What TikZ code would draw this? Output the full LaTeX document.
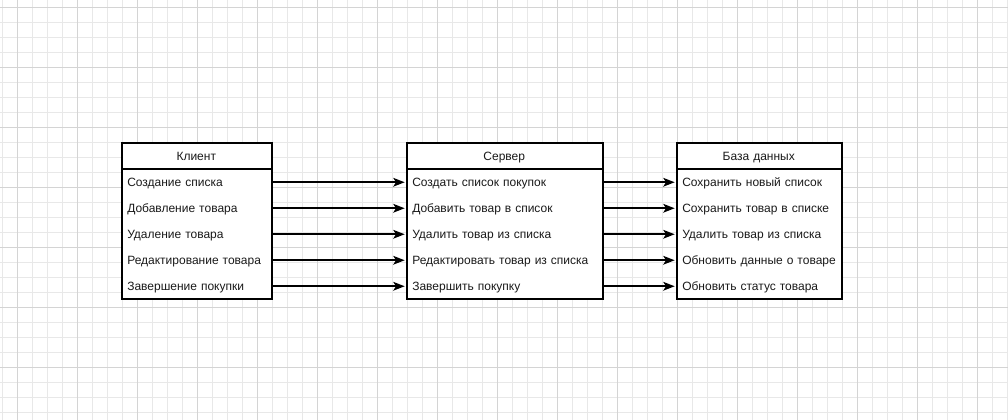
\documentclass[tikz,border=0pt]{standalone}
\usepackage{fontspec}
\setmainfont{Liberation Sans}
\usetikzlibrary{arrows.meta}
\definecolor{gridminor}{HTML}{E8E8E8}
\definecolor{gridmajor}{HTML}{D4D4D4}
\definecolor{txt}{HTML}{1A1A1A}
\tikzset{
  boxframe/.style={draw=black, line width=1.5pt, minimum height=#1, inner sep=0pt, anchor=north west},
  headtext/.style={font=\fontsize{9}{10}\selectfont, text=txt, inner sep=0pt, minimum height=19.5pt, anchor=north west, text width=#1, align=center, text height=7pt, text depth=0.4pt},
  rowtext/.style={font=\fontsize{9}{10}\selectfont, text=txt, inner xsep=4.5pt, inner ysep=0pt, minimum height=19.5pt, anchor=north west, text width=#1, align=left, text height=7pt, text depth=0.4pt},
  arr/.style={line width=1.5pt, -{Stealth[length=8.5pt,width=6.5pt,inset=2pt]}, shorten >=1pt},
}
\begin{document}
\begin{tikzpicture}[x=0.75pt,y=-0.75pt]
\useasboundingbox (0,0) rectangle (1008,420);
\fill[white] (0,0) rectangle (1008,420);
% grid
\foreach \gx in {2,17,...,1007} \draw[gridminor, line width=0.75pt] (\gx,0) -- (\gx,420);
\foreach \gy in {8,23,...,419} \draw[gridminor, line width=0.75pt] (0,\gy) -- (1008,\gy);
\foreach \gx in {17,77,...,1007} \draw[gridmajor, line width=0.75pt] (\gx,0) -- (\gx,420);
\foreach \gy in {8,68,...,419} \draw[gridmajor, line width=0.75pt] (0,\gy) -- (1008,\gy);

% white fills
\fill[white] (121,142) rectangle (271,298);
\fill[white] (406,142) rectangle (602,298);
\fill[white] (676,142) rectangle (841,298);

% Client
\node[boxframe=19.5pt, minimum width=112.5pt] (ch) at (121,142) {};
\node[boxframe=97.5pt, minimum width=112.5pt] (cb) at (121,168) {};
\node[headtext=112.5pt] (cht) at (121,142.5) {Клиент};
\node[rowtext=103.5pt] (c1) at (121,169) {\mbox{Создание списка}};
\node[rowtext=103.5pt] (c2) at (121,195) {\mbox{Добавление товара}};
\node[rowtext=103.5pt] (c3) at (121,221) {\mbox{Удаление товара}};
\node[rowtext=103.5pt] (c4) at (121,247) {\mbox{Редактирование товара}};
\node[rowtext=103.5pt] (c5) at (121,273) {\mbox{Завершение покупки}};

% Server
\node[boxframe=19.5pt, minimum width=147pt] (sh) at (406,142) {};
\node[boxframe=97.5pt, minimum width=147pt] (sb) at (406,168) {};
\node[headtext=147pt] (sht) at (406,142.5) {Сервер};
\node[rowtext=138pt] (s1) at (406,169) {\mbox{Создать список покупок}};
\node[rowtext=138pt] (s2) at (406,195) {\mbox{Добавить товар в список}};
\node[rowtext=138pt] (s3) at (406,221) {\mbox{Удалить товар из списка}};
\node[rowtext=138pt] (s4) at (406,247) {\mbox{Редактировать товар из списка}};
\node[rowtext=138pt] (s5) at (406,273) {\mbox{Завершить покупку}};

% Database
\node[boxframe=19.5pt, minimum width=123.75pt] (dh) at (676,142) {};
\node[boxframe=97.5pt, minimum width=123.75pt] (db) at (676,168) {};
\node[headtext=123.75pt] (dht) at (676,142.5) {База данных};
\node[rowtext=114.75pt] (d1) at (676,169) {\mbox{Сохранить новый список}};
\node[rowtext=114.75pt] (d2) at (676,195) {\mbox{Сохранить товар в списке}};
\node[rowtext=114.75pt] (d3) at (676,221) {\mbox{Удалить товар из списка}};
\node[rowtext=114.75pt] (d4) at (676,247) {\mbox{Обновить данные о товаре}};
\node[rowtext=114.75pt] (d5) at (676,273) {\mbox{Обновить статус товара}};

% arrows
\foreach \i in {1,...,5} {
  \draw[arr] (c\i.east) -- (s\i.west);
  \draw[arr] (s\i.east) -- (d\i.west);
}
\end{tikzpicture}
\end{document}
